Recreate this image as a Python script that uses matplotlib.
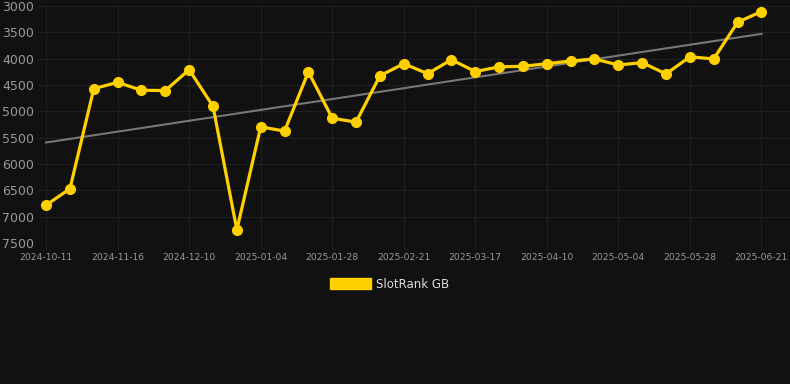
import numpy as np
import matplotlib.pyplot as plt
from matplotlib.patches import Rectangle

# weekly rank values (lower rank number = better, axis is inverted)
ranks = [6780, 6470, 4570, 4450, 4600, 4605, 4210, 4905, 7250, 5295,
         5375, 4250, 5130, 5205, 4325, 4095, 4285, 4020, 4245, 4155,
         4145, 4095, 4045, 4005, 4120, 4075, 4290, 3965, 4005, 3310, 3105]
tick_labels = ['2024-10-11', '2024-11-16', '2024-12-10', '2025-01-04',
               '2025-01-28', '2025-02-21', '2025-03-17', '2025-04-10',
               '2025-05-04', '2025-05-28', '2025-06-21']
y_ticks = [3000, 3500, 4000, 4500, 5000, 5500, 6000, 6500, 7000, 7500]

bg = '#111111'
gold = '#FFD000'

x = np.arange(len(ranks))

fig = plt.figure(figsize=(7.9, 3.84), dpi=100, facecolor=bg)
ax = fig.add_axes([38/790, 1 - 243/384, 1 - 38/790, (243 - 6)/384])
ax.set_facecolor(bg)

# trend line (least squares fit)
coef = np.polyfit(x, ranks, 1)
ax.plot(x, np.polyval(coef, x), color='#777777', lw=1.5, zorder=2)

ax.plot(x, ranks, color=gold, lw=2.3, marker='o', markersize=7, zorder=3)

ax.set_ylim(7500, 3000)
ax.set_xlim(-0.34, 31.2)
ax.set_yticks(y_ticks)
ax.set_xticks(x[::3])
ax.set_xticklabels(tick_labels)

ax.grid(True, color='#202020', lw=0.8)
for s in ax.spines.values():
    s.set_visible(False)
ax.tick_params(axis='y', colors='#999999', labelsize=9, length=0, pad=3)
ax.tick_params(axis='x', colors='#202020', labelcolor='#999999', labelsize=6.6,
               length=4, pad=3)

# legend shows a filled rectangle
fig.legend([Rectangle((0, 0), 1, 1, color=gold)], ['SlotRank GB'],
           loc='center', bbox_to_anchor=(390/790, 1 - 284/384),
           frameon=False, handlelength=3.4, handleheight=1.0,
           handletextpad=0.5, labelcolor='#dddddd', fontsize=8.5)

fig.savefig('out.png', dpi=100, facecolor=bg)
